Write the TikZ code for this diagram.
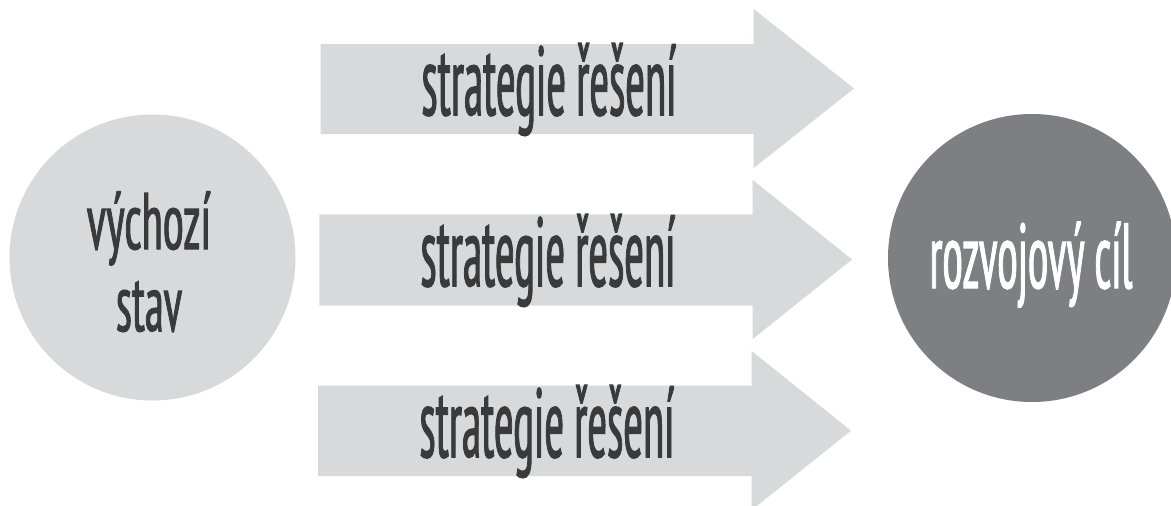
\documentclass[tikz,border=0pt]{standalone}
\usepackage{fontspec}
\newfontfamily\condfont{PT Sans Narrow}[FakeBold=1.6]
\definecolor{lightg}{RGB}{216,217,219}
\definecolor{darkg}{RGB}{126,127,131}
\definecolor{inkg}{RGB}{58,58,58}
\newcommand{\ctext}[3]{\resizebox{#1pt}{\height}{\fontsize{#2}{#2}\selectfont\condfont #3}}
\tikzset{
  lbl/.style={inner sep=0pt, anchor=base, text=inkg},
  wlbl/.style={inner sep=0pt, anchor=base, text=white},
  bigarrow/.style={fill=lightg, draw=none},
  disc/.style={circle, inner sep=0pt, draw=none}
}
\begin{document}
\begin{tikzpicture}[x=1pt, y=-1pt]
\useasboundingbox (0,0) rectangle (1171,506);
\clip (0,0) rectangle (1171,506);
\fill[white] (0,0) rectangle (1171,506);
% circles
\node[disc, fill=lightg, minimum size=286pt] (start) at (152.5,257.5) {};
\node[disc, fill=darkg, minimum size=288pt] (goal) at (1032,258) {};
% arrows
\fill[bigarrow] (320.7,44) -- (753.7,44) -- (753.7,9) -- (854,88.5) -- (753.7,168) -- (753.7,134) -- (320.7,134) -- cycle;
\fill[bigarrow] (319.3,214.3) -- (752.7,214.3) -- (752.7,180) -- (852,259.5) -- (752.7,339) -- (752.7,305.5) -- (319.3,305.5) -- cycle;
\fill[bigarrow] (318,385.5) -- (751.7,385.5) -- (751.7,351) -- (851,430.7) -- (751.7,510) -- (751.7,476) -- (318,476) -- cycle;
% texts
\node[lbl] (t1) at (549,115) {\ctext{255}{98}{strategie řešení}};
\node[lbl] (t2) at (548,286) {\ctext{255}{98}{strategie řešení}};
\node[lbl] (t3) at (547,457) {\ctext{255}{98}{strategie řešení}};
\node[lbl] (v1) at (149,249) {\ctext{124}{80}{výchozí}};
\node[lbl] (v2) at (149,331) {\ctext{66}{80}{stav}};
\node[wlbl] (r1) at (1031,288) {\ctext{203}{92}{rozvojový cíl}};
\end{tikzpicture}
\end{document}
